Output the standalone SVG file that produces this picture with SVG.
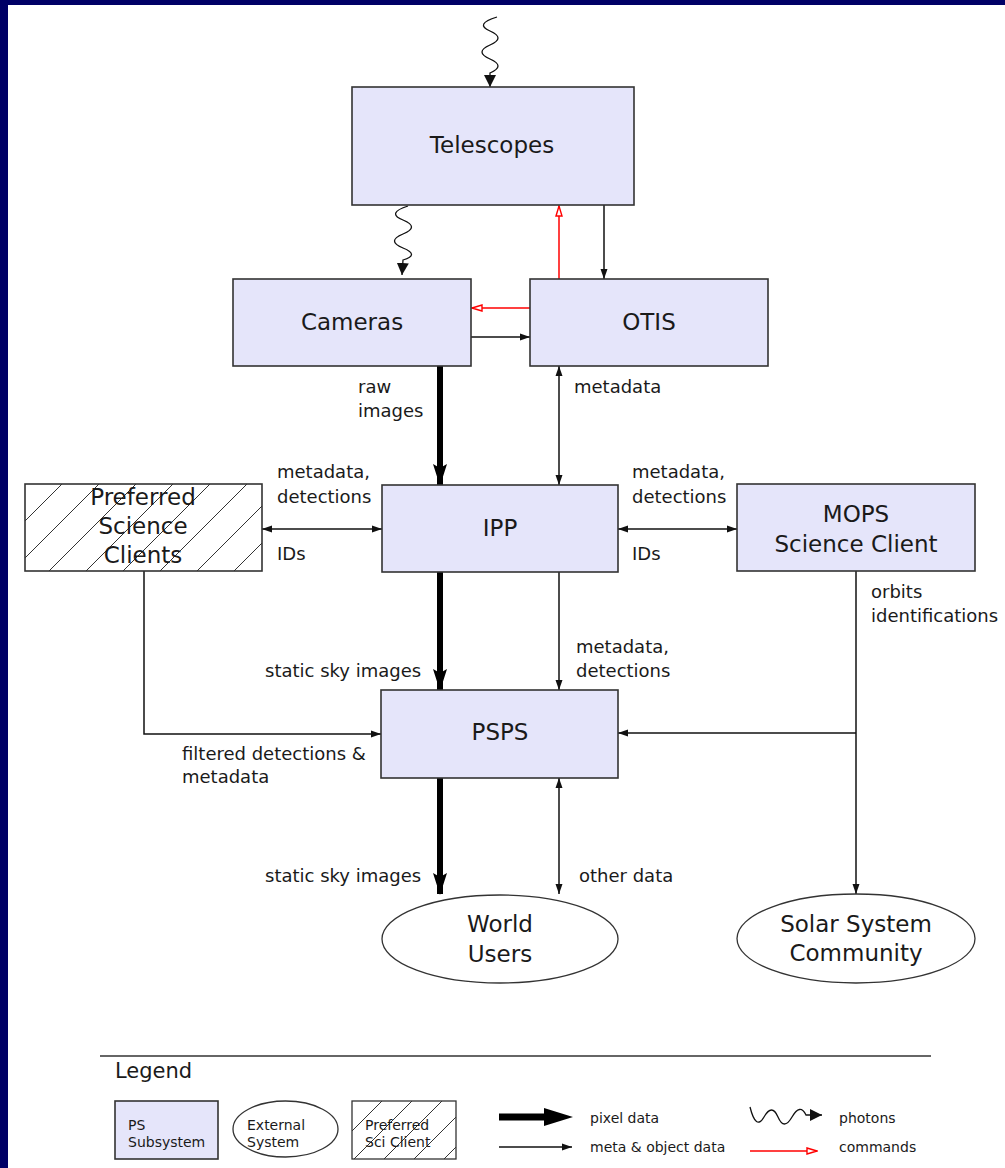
<svg xmlns="http://www.w3.org/2000/svg" width="1005" height="1168" viewBox="0 0 1005 1168">
<style>
text{font-family:"DejaVu Sans","Liberation Sans",sans-serif;fill:#1a1a1a}
.box{fill:#e5e5fa;stroke:#333;stroke-width:1.6}
.ext{fill:#fff;stroke:#333;stroke-width:1.3}
.nl{font-size:23px;text-anchor:middle}
.lb{font-size:18px}
.lg{font-size:14px}
.thin{fill:none;stroke:#111;stroke-width:1.5}
.thick{fill:none;stroke:#000;stroke-width:6}
.cmd{fill:none;stroke:#f00;stroke-width:1.5}
.wave{fill:none;stroke:#111;stroke-width:1.3}
</style>
<defs>
<marker id="arr" markerUnits="userSpaceOnUse" viewBox="0 0 10 8" markerWidth="10" markerHeight="8" refX="10" refY="4" orient="auto-start-reverse"><path d="M0,0.5 L10,4 L0,7.5 z" fill="#111"/></marker>
<marker id="thk" markerUnits="userSpaceOnUse" viewBox="0 0 22 14" markerWidth="22" markerHeight="14" refX="21" refY="7" orient="auto"><path d="M0,0 L22,7 L0,14 L4,7 z" fill="#000"/></marker>
<marker id="ph" markerUnits="userSpaceOnUse" viewBox="0 0 12 12" markerWidth="12" markerHeight="12" refX="12" refY="6" orient="auto"><path d="M0,0 L12,6 L0,12 z" fill="#111"/></marker>
<marker id="cm" markerUnits="userSpaceOnUse" viewBox="0 0 12 8" markerWidth="12" markerHeight="8" refX="11" refY="4" orient="auto"><path d="M1,1 L11,4 L1,7 z" fill="#fff" stroke="#f00" stroke-width="1.4"/></marker>
<pattern id="h1" patternUnits="userSpaceOnUse" x="25" y="484" width="37" height="37"><path d="M0,37 L37,0 M-5,5 L5,-5 M32,42 L42,32" stroke="#333" stroke-width="1"/></pattern>
<pattern id="h2" patternUnits="userSpaceOnUse" x="352" y="1101" width="30" height="30"><path d="M0,30 L30,0 M-5,5 L5,-5 M25,35 L35,25" stroke="#333" stroke-width="1"/></pattern>
</defs>
<rect x="0" y="0" width="1005" height="1168" fill="#000066"/>
<rect x="8" y="5" width="997" height="1163" fill="#fff"/>

<g id="connectors">
<path class="wave" d="M497,17 Q474,24 490,31 T490,45 T490,59 T490,73 L490,87" marker-end="url(#ph)"/>
<path class="wave" d="M408,206 Q386,213 403,220 T403,234 T403,248 T403,260 L402,275" marker-end="url(#ph)"/>
<path class="cmd" d="M559,279 V206" marker-end="url(#cm)"/>
<path class="cmd" d="M530,308 H472" marker-end="url(#cm)"/>
<path class="thin" d="M604,205 V279" marker-end="url(#arr)"/>
<path class="thin" d="M471,337 H530" marker-end="url(#arr)"/>
<path class="thick" d="M440,366 V485" marker-end="url(#thk)"/>
<path class="thin" d="M559,366 V485" marker-start="url(#arr)" marker-end="url(#arr)"/>
<path class="thin" d="M262,529 H382" marker-start="url(#arr)" marker-end="url(#arr)"/>
<path class="thin" d="M618,529 H737" marker-start="url(#arr)" marker-end="url(#arr)"/>
<path class="thick" d="M440,572 V690" marker-end="url(#thk)"/>
<path class="thin" d="M559,572 V690" marker-end="url(#arr)"/>
<path class="thin" d="M144,571 V734 H381" marker-end="url(#arr)"/>
<path class="thin" d="M856,733 H618" marker-end="url(#arr)"/>
<path class="thin" d="M856,571 V894" marker-end="url(#arr)"/>
<path class="thick" d="M440,778 V894" marker-end="url(#thk)"/>
<path class="thin" d="M559,778 V894" marker-start="url(#arr)" marker-end="url(#arr)"/>
</g>

<g id="telescopes"><rect class="box" x="352" y="87" width="282" height="118"/><text class="nl" x="492" y="153">Telescopes</text></g>
<g id="cameras"><rect class="box" x="233" y="279" width="238" height="87"/><text class="nl" x="352" y="330">Cameras</text></g>
<g id="otis"><rect class="box" x="530" y="279" width="238" height="87"/><text class="nl" x="649" y="330">OTIS</text></g>
<g id="ipp"><rect class="box" x="382" y="485" width="236" height="87"/><text class="nl" x="500" y="536">IPP</text></g>
<g id="preferred"><rect x="25" y="484" width="237" height="87" fill="url(#h1)" stroke="#333" stroke-width="1.6"/><text class="nl" x="143" y="505">Preferred</text><text class="nl" x="143" y="534">Science</text><text class="nl" x="143" y="563">Clients</text></g>
<g id="mops"><rect class="box" x="737" y="484" width="238" height="87"/><text class="nl" x="856" y="522">MOPS</text><text class="nl" x="856" y="552">Science Client</text></g>
<g id="psps"><rect class="box" x="381" y="690" width="237" height="88"/><text class="nl" x="500" y="740">PSPS</text></g>
<g id="world"><ellipse class="ext" cx="500" cy="939" rx="118" ry="44"/><text class="nl" x="500" y="932">World</text><text class="nl" x="500" y="962">Users</text></g>
<g id="solar"><ellipse class="ext" cx="856" cy="938.5" rx="119" ry="44.5"/><text class="nl" x="856" y="932">Solar System</text><text class="nl" x="856" y="961">Community</text></g>

<g id="labels">
<text class="lb" x="358" y="393">raw</text><text class="lb" x="358" y="417">images</text>
<text class="lb" x="574" y="393">metadata</text>
<text class="lb" x="277" y="478">metadata,</text><text class="lb" x="277" y="503">detections</text>
<text class="lb" x="277" y="560">IDs</text>
<text class="lb" x="632" y="478">metadata,</text><text class="lb" x="632" y="503">detections</text>
<text class="lb" x="632" y="560">IDs</text>
<text class="lb" x="871" y="598">orbits</text><text class="lb" x="871" y="622">identifications</text>
<text class="lb" x="265" y="677">static sky images</text>
<text class="lb" x="576" y="653">metadata,</text><text class="lb" x="576" y="677">detections</text>
<text class="lb" x="182" y="760">filtered detections &amp;</text><text class="lb" x="182" y="783">metadata</text>
<text class="lb" x="265" y="882">static sky images</text>
<text class="lb" x="579" y="882">other data</text>
</g>

<g id="legend">
<line x1="100" y1="1056" x2="931" y2="1056" stroke="#333" stroke-width="1.3"/>
<text x="115" y="1078" font-size="21">Legend</text>
<rect class="box" x="115" y="1101" width="103" height="58" stroke-width="1.3"/>
<text class="lg" x="128" y="1130">PS</text><text class="lg" x="128" y="1147">Subsystem</text>
<ellipse class="ext" cx="285.5" cy="1129" rx="52.5" ry="28"/>
<text class="lg" x="247" y="1130">External</text><text class="lg" x="247" y="1147">System</text>
<rect x="352" y="1101" width="104" height="58" fill="url(#h2)" stroke="#333" stroke-width="1.3"/>
<text class="lg" x="365" y="1130">Preferred</text><text class="lg" x="365" y="1147">Sci Client</text>
<line x1="499" y1="1117" x2="548" y2="1117" stroke="#000" stroke-width="7"/>
<path d="M544,1108 L573,1117 L544,1126 z" fill="#000"/>
<text class="lg" x="590" y="1123">pixel data</text>
<path class="thin" d="M499,1147 H572" marker-end="url(#arr)"/>
<text class="lg" x="590" y="1152">meta &amp; object data</text>
<path class="wave" d="M750,1107 Q756,1131 764,1117 T778,1117 T792,1117 T806,1115 L822,1115" marker-end="url(#ph)"/>
<text class="lg" x="839" y="1123">photons</text>
<path class="cmd" d="M750,1151 H817" marker-end="url(#cm)"/>
<text class="lg" x="839" y="1152">commands</text>
</g>
</svg>
